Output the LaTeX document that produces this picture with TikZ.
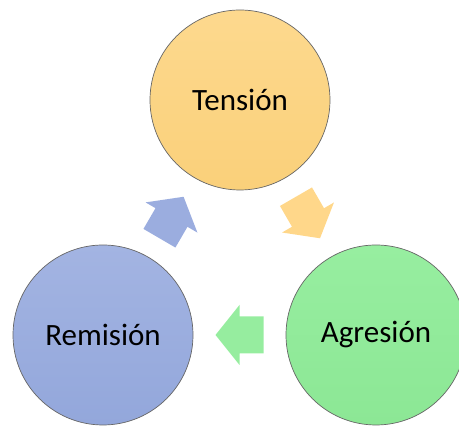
\documentclass[tikz,border=0pt]{standalone}
\usepackage{fontspec}
\setmainfont{Carlito}
\usepackage{xcolor}
\usepackage{tikz}
\usetikzlibrary{calc}
\definecolor{tenstop}{HTML}{FDD98E}
\definecolor{tensbot}{HTML}{FAD07A}
\definecolor{agretop}{HTML}{97EEA0}
\definecolor{agrebot}{HTML}{8CE795}
\definecolor{remitop}{HTML}{A3B4E2}
\definecolor{remibot}{HTML}{93A7DB}
\definecolor{tensarrow}{HTML}{FFD78A}
\definecolor{agrearrow}{HTML}{96ED9F}
\definecolor{remiarrow}{HTML}{9BADDF}
% block arrow halfway between two phases
\newcommand{\cyclearrow}[3]{%
    \coordinate (flowmid) at ($(#1)!0.5!(#2)$);
    \pgfmathanglebetweenpoints{\pgfpointanchor{#1}{center}}{\pgfpointanchor{#2}{center}}
    \let\flowangle\pgfmathresult
    \fill [#3, shift = {(flowmid)}, rotate = \flowangle]
        (-24,-18.5) -- (0,-18.5) -- (0,-30) -- (24,0) -- (0,30) -- (0,18.5) -- (-24,18.5) -- cycle;
}

\begin{document}
\begin{tikzpicture}[
    x = 1pt, y = 1pt,
    phase/.style = {circle, draw = black!60, line width = 0.7pt, inner sep = 0pt, minimum size = 180pt, font = \fontsize{31}{37}\selectfont},
    ]
    \useasboundingbox (0,0) rectangle (459,428);

    % draw the three phases
    \node [phase, top color = tenstop, bottom color = tensbot] (tension)  at (240,328) {Tensión};
    \node [phase, top color = agretop, bottom color = agrebot] (agresion) at (376,93)  {Agresión};
    \node [phase, top color = remitop, bottom color = remibot] (remision) at (103,93)  {Remisión};

    % draw arrows of the cycle
    \cyclearrow{tension}{agresion}{tensarrow}
    \cyclearrow{agresion}{remision}{agrearrow}
    \cyclearrow{remision}{tension}{remiarrow}
\end{tikzpicture}
\end{document}
